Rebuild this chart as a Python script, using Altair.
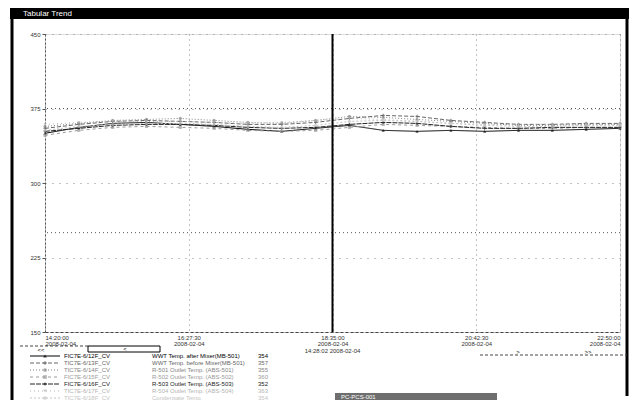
import altair as alt
import pandas as pd

times = [
    "2008-02-04T14:20:00", "2008-02-04T14:50:00", "2008-02-04T15:20:00",
    "2008-02-04T15:50:00", "2008-02-04T16:20:00", "2008-02-04T16:50:00",
    "2008-02-04T17:20:00", "2008-02-04T17:50:00", "2008-02-04T18:20:00",
    "2008-02-04T18:50:00", "2008-02-04T19:20:00", "2008-02-04T19:50:00",
    "2008-02-04T20:20:00", "2008-02-04T20:50:00", "2008-02-04T21:20:00",
    "2008-02-04T21:50:00", "2008-02-04T22:20:00", "2008-02-04T22:50:00",
]

series_names = [
    "FIC7E-6/12F_CV", "TIC7E-6/13F_CV", "TIC7E-6/14F_CV", "FIC7E-6/15F_CV",
    "FIC7E-6/16F_CV", "TIC7E-6/17F_CV", "TIC7E-6/18F_CV",
]
descriptions = [
    "WWT Temp. after Mixer(MB-501)",
    "WWT Temp. before Mixer(MB-501)",
    "R-501 Outlet Temp. (ABS-501)",
    "R-502 Outlet Temp. (ABS-502)",
    "R-503 Outlet Temp. (ABS-503)",
    "R-504 Outlet Temp. (ABS-504)",
    "Condensate Temp.",
]
cursor_values = ["354", "357", "355", "360", "352", "363", "354"]

s1 = [350, 356, 360, 361, 359, 357, 354, 352, 355, 358, 353, 352, 353, 352, 353, 353, 354, 355]
s2 = [355, 359, 362, 363, 362, 361, 359, 359, 361, 365, 368, 367, 363, 361, 359, 359, 360, 360]
s3 = [357, 360, 363, 364, 365, 363, 361, 360, 363, 367, 366, 364, 362, 360, 358, 358, 359, 359]
s4 = [348, 353, 356, 357, 356, 355, 353, 352, 353, 356, 359, 358, 357, 356, 355, 355, 356, 356]
s5 = [352, 355, 358, 359, 359, 358, 356, 355, 356, 359, 361, 360, 357, 355, 355, 356, 356, 356]
s6 = [359, 361, 362, 362, 362, 361, 360, 361, 363, 365, 364, 362, 360, 359, 359, 359, 359, 359]
s7 = [353, 357, 359, 360, 360, 359, 357, 356, 358, 362, 363, 362, 360, 358, 357, 357, 358, 358]
all_series = [s1, s2, s3, s4, s5, s6, s7]

y_ticks = [150, 225, 300, 375, 450]
limit_values = [375, 250]
cursor_time = "2008-02-04T18:35:00"
cursor_label = "14:28:02 2008-02-04"
window_title = "Tabular Trend"
status_text = "PC-PCS-001"

# styles
colors = ["#000000", "#666666", "#858585", "#9a9a9a", "#222222", "#b4b4b4", "#c4c4c4"]
dashes = [[1, 0], [4, 2], [1, 2], [3, 3], [5, 1], [1, 3], [2, 2]]
shapes = ["triangle-up", "cross", "circle", "square", "diamond", "triangle-down", "circle"]

rows = []
for name, vals in zip(series_names, all_series):
    for t, v in zip(times, vals):
        rows.append({"series": name, "t": t, "v": v})
df = pd.DataFrame(rows)

legend_df = pd.DataFrame({
    "series": series_names,
    "row": list(range(len(series_names))),
    "desc": descriptions,
    "val": cursor_values,
})

def dt(h, m, s=0):
    return alt.DateTime(year=2008, month=2, date=4, hours=h, minutes=m, seconds=s)

xscale = alt.Scale(domain=[dt(14, 20), dt(22, 50)])
yscale = alt.Scale(domain=[150, 450], nice=False, zero=False)
rowscale = alt.Scale(domain=[0, 6], range=[322, 364], nice=False, zero=False)

xaxis = alt.Axis(
    values=[dt(14, 20), dt(16, 27, 30), dt(18, 35), dt(20, 42, 30), dt(22, 50)],
    title=None,
    labelExpr="[timeFormat(datum.value, '%H:%M:%S'), timeFormat(datum.value, '%Y-%m-%d')]",
    labelFontSize=6, labelColor="#333333", labelFlush=True, labelPadding=2,
    labelLineHeight=6.5, tickSize=0, domainDash=[3, 2], domainColor="#444444",
    gridDash=[1, 4], gridColor="#888888", grid=True,
)
yaxis = alt.Axis(
    values=y_ticks, title=None, labelFontSize=6, labelColor="#333333",
    tickSize=3, tickColor="#555555", domainColor="#555555", domainDash=[2, 2],
    gridDash=[1, 6], gridColor="#888888", grid=True, labelPadding=2,
)

color_enc = alt.Color("series:N", scale=alt.Scale(domain=series_names, range=colors), legend=None)
dash_enc = alt.StrokeDash("series:N", scale=alt.Scale(domain=series_names, range=dashes), legend=None)
shape_enc = alt.Shape("series:N", scale=alt.Scale(domain=series_names, range=shapes), legend=None)

x_enc = alt.X("t:T", scale=xscale, axis=xaxis)

lines = alt.Chart(df).mark_line(strokeWidth=1).encode(
    x=x_enc, y=alt.Y("v:Q", scale=yscale, axis=yaxis),
    color=color_enc, strokeDash=dash_enc, detail="series:N",
)
points = alt.Chart(df).mark_point(size=10, filled=True, strokeWidth=1).encode(
    x=x_enc, y=alt.Y("v:Q", scale=yscale, axis=None),
    color=color_enc, shape=shape_enc,
)
limits = alt.Chart(pd.DataFrame({"v": limit_values})).mark_rule(
    color="#555555", strokeDash=[1, 3], strokeWidth=1
).encode(y=alt.Y("v:Q", scale=yscale, axis=None))

cursor_df = pd.DataFrame({"t": [cursor_time], "v": [150], "label": [cursor_label]})
cursor = alt.Chart(cursor_df).mark_rule(color="#000000", strokeWidth=2).encode(x=x_enc)
cursor_txt = alt.Chart(cursor_df).mark_text(fontSize=6, color="#333333", dy=19, baseline="middle").encode(
    x=x_enc, y=alt.Y("v:Q", scale=yscale, axis=None), text="label:N"
)

# legend table
leg_y = alt.Y("row:Q", scale=rowscale, axis=None)
leg_rule = alt.Chart(legend_df).mark_rule(strokeWidth=1).encode(
    x=alt.value(-15), x2=alt.value(15), y=leg_y, color=color_enc, strokeDash=dash_enc
)
leg_pt = alt.Chart(legend_df).mark_point(size=14, filled=True).encode(
    x=alt.value(0), y=leg_y, color=color_enc, shape=shape_enc
)
leg_name = alt.Chart(legend_df).mark_text(align="left", baseline="middle", fontSize=6).encode(
    x=alt.value(19), y=leg_y, text="series:N", color=color_enc
)
leg_desc = alt.Chart(legend_df).mark_text(align="left", baseline="middle", fontSize=6).encode(
    x=alt.value(107), y=leg_y, text="desc:N", color=color_enc
)
leg_val = alt.Chart(legend_df).mark_text(align="left", baseline="middle", fontSize=6).encode(
    x=alt.value(213), y=leg_y, text="val:N", color=color_enc
)

one = pd.DataFrame({"a": [0]})
title_bar = alt.Chart(one).mark_rect(color="#000000").encode(
    x=alt.value(-35), x2=alt.value(590), y=alt.value(-26), y2=alt.value(-15)
)
title_txt = alt.Chart(one).mark_text(align="left", baseline="middle", fontSize=8, color="#ffffff").encode(
    x=alt.value(-22), y=alt.value(-20.5), text=alt.value(window_title)
)
left_frame = alt.Chart(one).mark_rule(color="#000000", strokeWidth=3).encode(
    x=alt.value(-33), y=alt.value(-26), y2=alt.value(370)
)
right_frame = alt.Chart(one).mark_rule(color="#000000", strokeWidth=3).encode(
    x=alt.value(582), y=alt.value(-26), y2=alt.value(362)
)
nav_line_l = alt.Chart(one).mark_rule(color="#444444", strokeDash=[3, 2]).encode(
    x=alt.value(-25), x2=alt.value(43), y=alt.value(312)
)
nav_box = alt.Chart(one).mark_rect(fill="#ffffff", stroke="#000000", strokeWidth=1).encode(
    x=alt.value(43), x2=alt.value(115), y=alt.value(312), y2=alt.value(318)
)
nav_txt_l1 = alt.Chart(one).mark_text(fontSize=6, baseline="middle").encode(
    x=alt.value(-4), y=alt.value(316), text=alt.value("<<")
)
nav_txt_l2 = alt.Chart(one).mark_text(fontSize=6, baseline="middle").encode(
    x=alt.value(80), y=alt.value(315), text=alt.value("<")
)
nav_line_r = alt.Chart(one).mark_rule(color="#444444", strokeDash=[3, 2]).encode(
    x=alt.value(435), x2=alt.value(582), y=alt.value(321)
)
nav_txt_r1 = alt.Chart(one).mark_text(fontSize=6, baseline="middle").encode(
    x=alt.value(473), y=alt.value(318), text=alt.value(">")
)
nav_txt_r2 = alt.Chart(one).mark_text(fontSize=6, baseline="middle").encode(
    x=alt.value(543), y=alt.value(318), text=alt.value(">>")
)
status_box = alt.Chart(one).mark_rect(color="#6e6e6e").encode(
    x=alt.value(290), x2=alt.value(452), y=alt.value(359), y2=alt.value(366)
)
status_txt = alt.Chart(one).mark_text(align="left", baseline="middle", fontSize=6, color="#ffffff").encode(
    x=alt.value(296), y=alt.value(363), text=alt.value(status_text)
)

chart = alt.layer(
    lines, limits, points, cursor, cursor_txt,
    leg_rule, leg_pt, leg_name, leg_desc, leg_val,
    title_bar, title_txt, left_frame, right_frame,
    nav_line_l, nav_box, nav_txt_l1, nav_txt_l2, nav_line_r, nav_txt_r1, nav_txt_r2,
    status_box, status_txt,
).resolve_scale(y="independent").properties(
    width=575, height=298,
    autosize=alt.AutoSizeParams(type="none"),
    padding={"left": 37, "top": 26, "right": 9, "bottom": 68},
).configure_view(strokeWidth=0).configure(font="Liberation Sans")

chart.save("out.html", embed_options={"renderer": "svg", "actions": False})
